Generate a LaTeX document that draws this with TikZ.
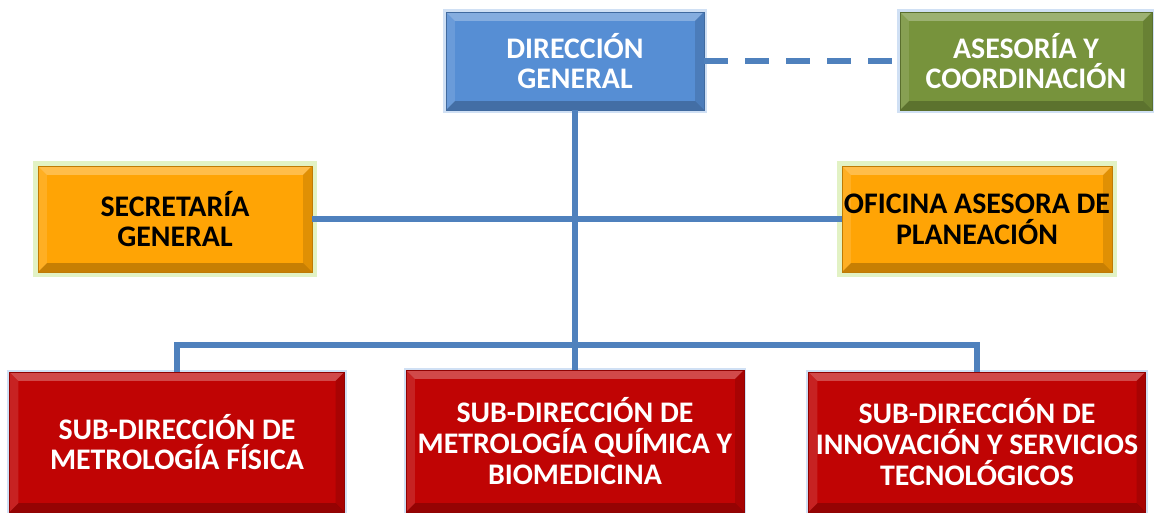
\documentclass[tikz,border=0pt]{standalone}
\usepackage{fontspec}
\setmainfont{Carlito}
\usetikzlibrary{positioning}

\definecolor{lineblue}{RGB}{79,129,189}
\definecolor{boxblue}{RGB}{86,142,212}
\definecolor{boxgreen}{RGB}{119,147,60}
\definecolor{boxorange}{RGB}{255,164,5}
\definecolor{boxred}{RGB}{192,4,4}
\definecolor{glowgreen}{RGB}{226,242,196}
\definecolor{glowblue}{RGB}{208,224,244}

% bevel on the edges of every box
\newcommand\boxbevel{%
  \fill[white,opacity=.28] (path picture bounding box.north west) -- (path picture bounding box.north east)
     -- ([shift={(-5pt,-5pt)}]path picture bounding box.north east) -- ([shift={(5pt,-5pt)}]path picture bounding box.north west) -- cycle;
  \fill[white,opacity=.12] (path picture bounding box.north west) -- (path picture bounding box.south west)
     -- ([shift={(5pt,5pt)}]path picture bounding box.south west) -- ([shift={(5pt,-5pt)}]path picture bounding box.north west) -- cycle;
  \fill[black,opacity=.22] (path picture bounding box.south west) -- (path picture bounding box.south east)
     -- ([shift={(-5pt,5pt)}]path picture bounding box.south east) -- ([shift={(5pt,5pt)}]path picture bounding box.south west) -- cycle;
  \fill[black,opacity=.12] (path picture bounding box.north east) -- (path picture bounding box.south east)
     -- ([shift={(-5pt,5pt)}]path picture bounding box.south east) -- ([shift={(-5pt,-5pt)}]path picture bounding box.north east) -- cycle;
}

\tikzset{
  unit/.style={rectangle, draw=#1!75!black, fill=#1, line width=0.5pt, align=center,
               inner sep=0pt, font=\fontsize{17}{17.5}\selectfont\bfseries,
               path picture={\boxbevel}},
  topunit/.style={unit=boxblue, text=white, preaction={draw=glowblue, line width=3pt}},
  advunit/.style={unit=boxgreen, text=white, preaction={draw=glowblue, line width=3pt}},
  staffunit/.style={unit=boxorange, text=black,
                    preaction={draw=glowgreen, line width=6pt, rounded corners=2pt}},
  subunit/.style={unit=boxred, text=white, preaction={draw=glowblue, line width=2.5pt}},
  link/.style={draw=lineblue, line width=3.4pt},
}

\begin{document}
\begin{tikzpicture}[x=0.02cm, y=-0.02cm]
  \useasboundingbox (0,0) rectangle (1154,512);

  \node[topunit, minimum width=5.16cm, minimum height=1.96cm] (dirgen) at (575,61) {DIRECCIÓN\\GENERAL};
  \node[advunit, minimum width=5.04cm, minimum height=1.96cm] (asesoria) at (1026,61) {ASESORÍA Y\\COORDINACIÓN};
  \node[staffunit, minimum width=5.48cm, minimum height=2.12cm] (secgen) at (175,219) {SECRETARÍA\\GENERAL};
  \node[staffunit, minimum width=5.4cm, minimum height=2.12cm] (oficina) at (977,219) {OFICINA ASESORA DE\\PLANEACIÓN};
  \node[subunit, minimum width=6.7cm, minimum height=2.8cm] (subfis) at (177,442) {SUB-DIRECCIÓN DE\\METROLOGÍA FÍSICA};
  \node[subunit, minimum width=6.76cm, minimum height=2.84cm] (subqui) at (575,441) {SUB-DIRECCIÓN DE\\METROLOGÍA QUÍMICA Y\\BIOMEDICINA};
  \node[subunit, minimum width=6.74cm, minimum height=2.8cm] (subinn) at (977,442) {SUB-DIRECCIÓN DE\\INNOVACIÓN Y SERVICIOS\\TECNOLÓGICOS};
  \coordinate (bus) at (575,345);

  \draw[link, dash pattern=on 13.6pt off 9.7pt] (dirgen.east) -- (asesoria.west);
  \draw[link] (dirgen.south) -- (subqui.north);
  \draw[link] (secgen.east) -- (oficina.west);
  \draw[link] (subfis.north) |- (bus) -| (subinn.north);
\end{tikzpicture}
\end{document}
